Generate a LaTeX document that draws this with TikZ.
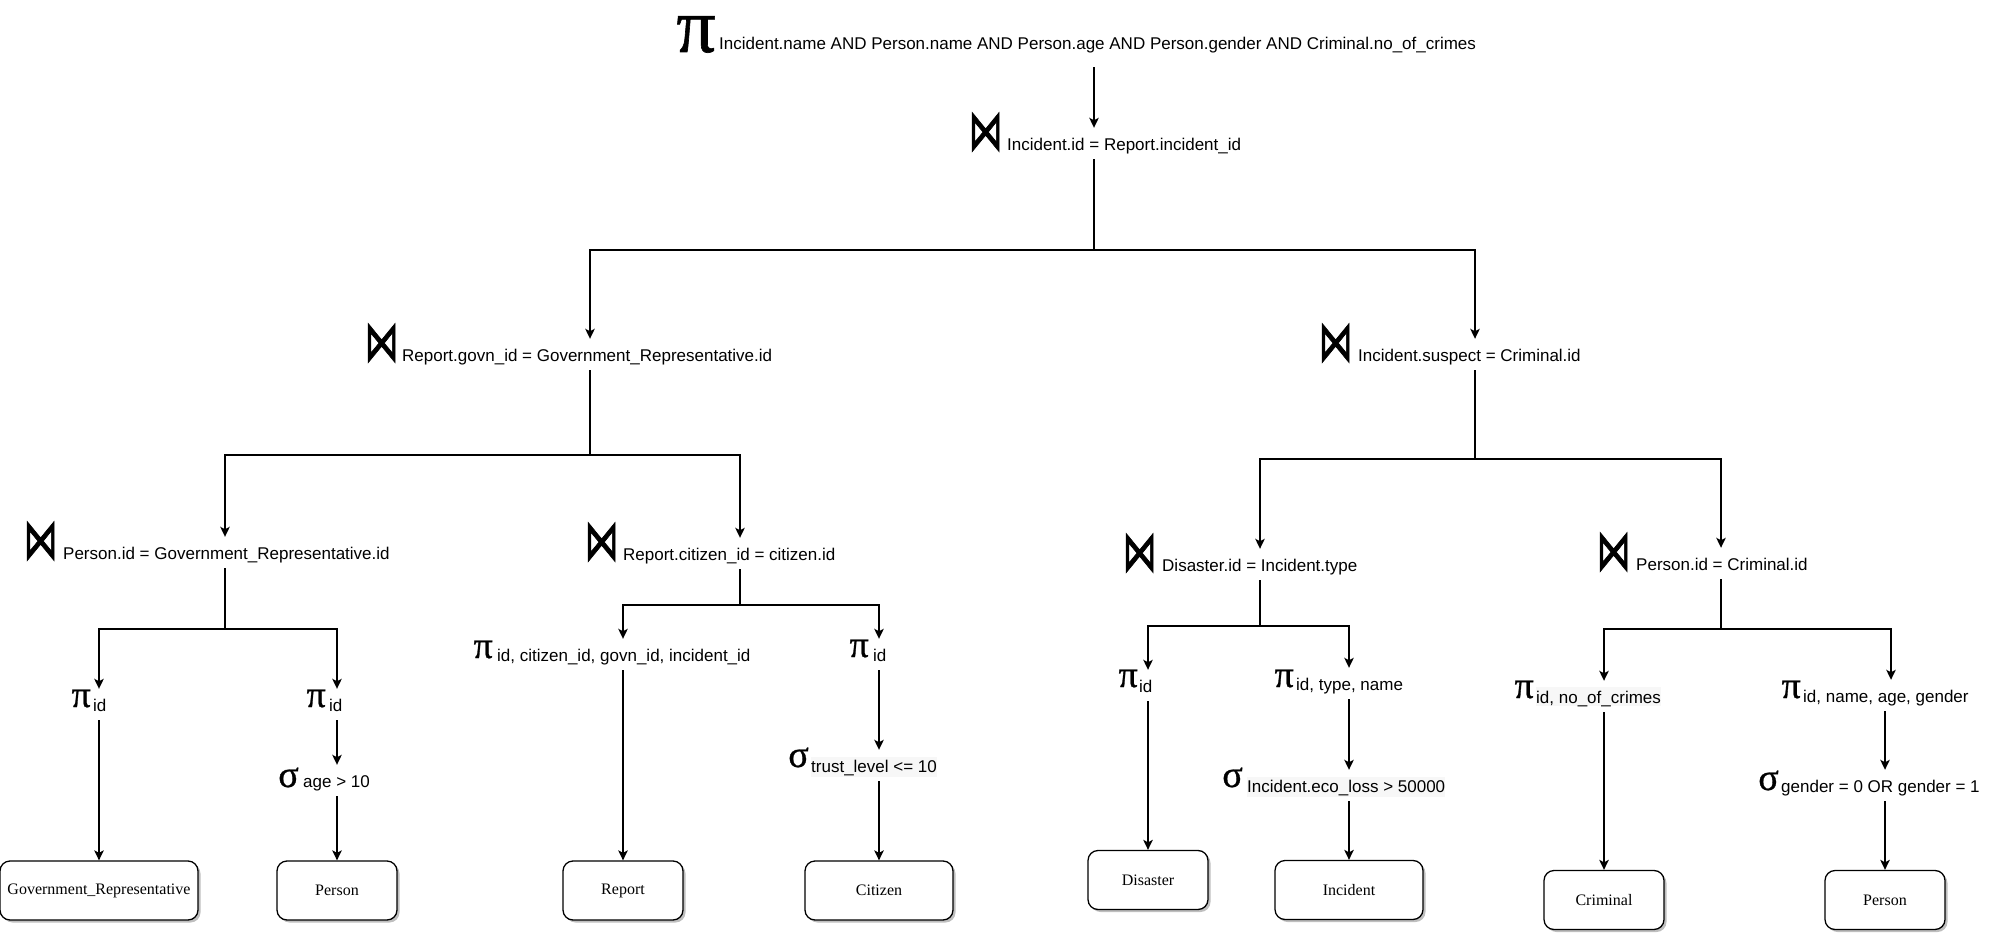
\documentclass[tikz,border=0pt]{standalone}
\usepackage{fontspec}
\setmainfont{Liberation Sans}
\newfontfamily\boxfont{Liberation Serif}
\newfontfamily\grk[FakeBold=0.8]{Liberation Serif}
\newfontfamily\bowfont[FakeBold=1.5]{DejaVu Sans}
\usetikzlibrary{arrows.meta,shadows,backgrounds}
\newcommand{\bowglyph}{\scalebox{0.78}[1.3]{⋈}}
\tikzset{
  lbl/.style={inner sep=0pt, anchor=base west, font=\fontsize{17}{20}\selectfont, text height=22pt, text depth=9pt},
  bowsym/.style={inner sep=0pt, anchor=base east, font=\bowfont\fontsize{44}{46}\selectfont, text height=20pt, text depth=0pt},
  grsym/.style={inner sep=0pt, anchor=base east, font=\grk\fontsize{38}{40}\selectfont, text height=16pt, text depth=0pt},
  rel/.style={draw, rounded corners=10pt, line width=1.3pt, font=\boxfont\fontsize{16}{18}\selectfont,
    minimum height=59pt, fill=white,
    drop shadow={shadow xshift=2.5pt, shadow yshift=-2.5pt, fill=black, opacity=0.25}},
  conn/.style={line width=1.6pt},
  arr/.style={conn, -{Stealth[length=10pt,width=9.5pt,inset=2.5pt]}},
  subbg/.style={fill=black!3}
}
\begin{document}
\begin{tikzpicture}[x=1pt,y=1pt]
\useasboundingbox (0,0) rectangle (1990,-934);
% ---- labels ----
\node[lbl, text depth=17pt] (P0) at (719,-50) {Incident.name AND Person.name AND Person.age AND Person.gender AND Criminal.no\_of\_crimes};
\node[grsym, font=\grk\fontsize{78}{80}\selectfont, text height=36pt, xshift=-3pt, yshift=-2pt] (P0s) at (P0.base west) {π};

\node[lbl] (J1) at (1007,-150) {Incident.id = Report.incident\_id};
\node[bowsym, xshift=-4pt] (J1s) at (J1.base west) {\bowglyph};
\node[lbl] (J2) at (402,-361) {Report.govn\_id = Government\_Representative.id};
\node[bowsym, xshift=-3pt] (J2s) at (J2.base west) {\bowglyph};
\node[lbl] (J3) at (1358,-361) {Incident.suspect = Criminal.id};
\node[bowsym, xshift=-5pt] (J3s) at (J3.base west) {\bowglyph};
\node[lbl] (JLL) at (63,-559) {Person.id = Government\_Representative.id};
\node[bowsym, xshift=-5pt] (JLLs) at (JLL.base west) {\bowglyph};
\node[lbl] (JLR) at (623,-560) {Report.citizen\_id = citizen.id};
\node[bowsym, xshift=-4pt] (JLRs) at (JLR.base west) {\bowglyph};
\node[lbl] (JRL) at (1162,-571) {Disaster.id = Incident.type};
\node[bowsym, xshift=-5pt] (JRLs) at (JRL.base west) {\bowglyph};
\node[lbl] (JRR) at (1636,-570) {Person.id = Criminal.id};
\node[bowsym, xshift=-5pt] (JRRs) at (JRR.base west) {\bowglyph};

\node[lbl] (PA) at (93,-711) {id};
\node[grsym, xshift=-2pt, yshift=4pt] (PAs) at (PA.base west) {π};
\node[lbl] (PB) at (329,-711) {id};
\node[grsym, xshift=-3pt, yshift=4pt] (PBs) at (PB.base west) {π};
\node[lbl] (SB) at (303,-787) {age > 10};
\node[grsym, xshift=-4pt, yshift=0pt] (SBs) at (SB.base west) {σ};
\node[lbl] (PC) at (497,-661) {id, citizen\_id, govn\_id, incident\_id};
\node[grsym, xshift=-4pt, yshift=3pt] (PCs) at (PC.base west) {π};
\node[lbl] (PD) at (873,-661) {id};
\node[grsym, xshift=-4pt, yshift=4pt] (PDs) at (PD.base west) {π};
\node[lbl] (SD) at (811,-772) {trust\_level <= 10};
\node[grsym, xshift=-2pt, yshift=5pt] (SDs) at (SD.base west) {σ};
\node[lbl] (PE) at (1139,-692) {id};
\node[grsym, xshift=-1pt, yshift=5pt] (PEs) at (PE.base west) {π};
\node[lbl] (PF) at (1296,-690) {id, type, name};
\node[grsym, xshift=-2pt, yshift=3pt] (PFs) at (PF.base west) {π};
\node[lbl] (SF) at (1247,-792) {Incident.eco\_loss > 50000};
\node[grsym, xshift=-4pt, yshift=5pt] (SFs) at (SF.base west) {σ};
\node[lbl] (PG) at (1536,-703) {id, no\_of\_crimes};
\node[grsym, xshift=-2pt, yshift=5pt] (PGs) at (PG.base west) {π};
\node[lbl] (PH) at (1803,-702) {id, name, age, gender};
\node[grsym, xshift=-2pt, yshift=4pt] (PHs) at (PH.base west) {π};
\node[lbl] (SH) at (1781,-792) {gender = 0 OR gender = 1};
\node[grsym, xshift=-2pt, yshift=2pt] (SHs) at (SH.base west) {σ};

% ---- relations ----
\node[rel, minimum width=198pt] (GovRep) at (99,-890.5) {Government\_Representative};
\node[rel, minimum width=120pt] (Person1) at (337,-890.5) {Person};
\node[rel, minimum width=120pt] (Report) at (623,-890.5) {Report};
\node[rel, minimum width=148pt] (Citizen) at (879,-890.5) {Citizen};
\node[rel, minimum width=120pt] (Disaster) at (1148,-880) {Disaster};
\node[rel, minimum width=148pt] (Incident) at (1349,-890) {Incident};
\node[rel, minimum width=120pt] (Criminal) at (1604,-900) {Criminal};
\node[rel, minimum width=120pt] (Person2) at (1885,-900) {Person};

% ---- subscript backgrounds ----
\begin{scope}[on background layer]
\fill[subbg] ([yshift=-5pt]SD.base west) rectangle ([yshift=15pt]SD.base east);
\fill[subbg] ([yshift=-5pt]SF.base west) rectangle ([yshift=15pt]SF.base east);
\fill[subbg] ([yshift=-3pt]PG.base west) rectangle ([yshift=16pt]PG.base east);
\end{scope}

% ---- branch points ----
\coordinate (b1) at (1094,-250);
\coordinate (b2) at (590,-455);
\coordinate (b3) at (1475,-459);
\coordinate (bLL) at (225,-629);
\coordinate (bLR) at (740,-605);
\coordinate (bRL) at (1260,-626);
\coordinate (bRR) at (1721,-629);
\coordinate (phcol) at ([xshift=6pt]Person2.north);

% ---- connectors ----
\draw[arr] (P0.south -| b1) -- (J1.north -| b1);
\draw[conn] (J1.south -| b1) -- (b1);
\draw[arr] (b1) -| (J2.north -| b2);
\draw[arr] (b1) -| (J3.north -| b3);

\draw[conn] (J2.south -| b2) -- (b2);
\draw[arr] (b2) -| (JLL.north -| bLL);
\draw[arr] (b2) -| (JLR.north -| bLR);
\draw[conn] (J3.south -| b3) -- (b3);
\draw[arr] (b3) -| (JRL.north -| bRL);
\draw[arr] (b3) -| (JRR.north -| bRR);

\draw[conn] (JLL.south -| bLL) -- (bLL);
\draw[arr] (bLL) -| (PA.north -| GovRep.north);
\draw[arr] (bLL) -| (PB.north -| Person1.north);
\draw[arr] (PA.south -| GovRep.north) -- (GovRep.north);
\draw[arr] (PB.south -| Person1.north) -- (SB.north -| Person1.north);
\draw[arr] (SB.south -| Person1.north) -- (Person1.north);

\draw[conn] (JLR.south -| bLR) -- (bLR);
\draw[arr] (bLR) -| (PC.north -| Report.north);
\draw[arr] (bLR) -| (PD.north -| Citizen.north);
\draw[arr] (PC.south -| Report.north) -- (Report.north);
\draw[arr] (PD.south -| Citizen.north) -- (SD.north -| Citizen.north);
\draw[arr] (SD.south -| Citizen.north) -- (Citizen.north);

\draw[conn] (JRL.south -| bRL) -- (bRL);
\draw[arr] (bRL) -| (PE.north -| Disaster.north);
\draw[arr] (bRL) -| (PF.north -| Incident.north);
\draw[arr] (PE.south -| Disaster.north) -- (Disaster.north);
\draw[arr] (PF.south -| Incident.north) -- (SF.north -| Incident.north);
\draw[arr] (SF.south -| Incident.north) -- (Incident.north);

\draw[conn] (JRR.south -| bRR) -- (bRR);
\draw[arr] (bRR) -| (PG.north -| Criminal.north);
\draw[arr] (bRR) -| (PH.north -| phcol);
\draw[arr] (PG.south -| Criminal.north) -- (Criminal.north);
\draw[arr] (PH.south -| Person2.north) -- (SH.north -| Person2.north);
\draw[arr] (SH.south -| Person2.north) -- (Person2.north);
\end{tikzpicture}
\end{document}
